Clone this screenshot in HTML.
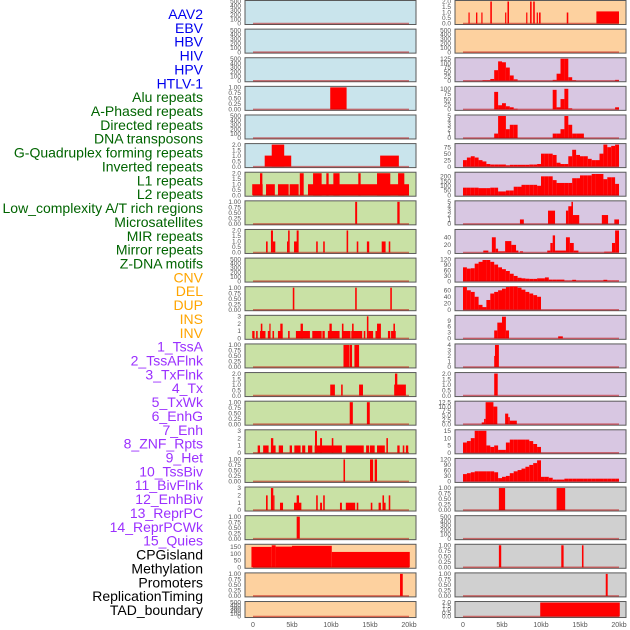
<!DOCTYPE html>
<html><head><meta charset="utf-8">
<style>
html,body{margin:0;padding:0;background:#fff;}
svg{display:block;font-family:"Liberation Sans",sans-serif;}
</style></head>
<body>
<svg id="chart" width="630" height="630" viewBox="0 0 630 630"></svg>
<script>
// ---- data ----
const rowLabels = ["AAV2","EBV","HBV","HIV","HPV","HTLV-1","Alu repeats","A-Phased repeats","Directed repeats","DNA transposons","G-Quadruplex forming repeats","Inverted repeats","L1 repeats","L2 repeats","Low_complexity A/T rich regions","Microsatellites","MIR repeats","Mirror repeats","Z-DNA motifs","CNV","DEL","DUP","INS","INV","1_TssA","2_TssAFlnk","3_TxFlnk","4_Tx","5_TxWk","6_EnhG","7_Enh","8_ZNF_Rpts","9_Het","10_TssBiv","11_BivFlnk","12_EnhBiv","13_ReprPC","14_ReprPCWk","15_Quies","CPGisland","Methylation","Promoters","ReplicationTiming","TAD_boundary"];
const labelGroups = [6,13,5,15,5];
const groupColors = ["#0000ee","#006400","#ffa500","#9b30ff","#000000"];
const xTickValues = [0,5,10,15,20];
const xTickLabels = ["0","5kb","10kb","15kb","20kb"];
const T500 = [0,100,200,300,400,500];
const T1 = [0,0.25,0.5,0.75,1];
const T2 = [0,0.5,1,1.5,2];
const T3 = [0,1,2,3];
const leftPanels = [
 [500,T500,null,[]],
 [500,T500,null,[]],
 [500,T500,null,[]],
 [1,T1,null,[[9.9,12.0,1]]],
 [500,T500,null,[]],
 [2,T2,null,[[1.5,4.9,1],[2.4,4.0,2],[16.3,18.7,1]]],
 [2,T2,null,[[-0.1,1.24,1],[0.9,1.2,2],[1.67,2.8,1],[3.2,4.57,1],[4.7,5.85,1],[6.0,6.5,2],[7.05,20.0,1],[7.7,8.8,2],[9.4,9.7,2],[10.3,11.1,2],[13.5,13.8,2],[15.9,17.6,2],[18.6,19.4,2]]],
 [1,T1,null,[[13.1,13.35,1],[18.5,18.8,1]]],
 [2,T2,null,[[1.67,1.88,1],[2.3,2.56,2],[2.56,2.86,1],[4.36,4.5,1],[4.5,4.7,2],[5.26,5.7,1],[5.6,5.85,2],[8.1,8.3,1],[9.0,9.2,1],[12.0,12.2,2],[13.3,13.5,1],[14.6,14.9,1],[16.5,17.0,1],[17.4,17.6,1]]],
 [500,T500,null,[]],
 [1,T1,null,[[5.1,5.3,1],[13.1,13.3,1],[17.6,17.8,1]]],
 [3,T3,null,[[-0.1,0.2,1],[0.4,0.6,1],[0.9,1.6,1],[1.9,2.2,1],[2.5,2.7,1],[3.2,3.8,1],[4.5,4.7,1],[5.5,7.3,1],[7.6,8.8,1],[8.9,9.2,1],[9.6,11.1,1],[11.4,12.5,1],[12.6,14.0,1],[14.2,14.4,1],[14.8,15.4,1],[15.7,16.3,1],[17.3,17.6,1],[17.7,18.3,1],[1.0,1.2,2],[2.1,2.2,2],[3.5,3.8,2],[6.1,6.4,2],[9.8,10.1,2],[11.4,11.6,2],[12.7,12.9,2],[15.9,16.4,2],[18.0,18.2,2],[14.6,14.8,3]]],
 [1,T1,null,[[11.6,12.35,1],[12.4,12.7,1],[13.0,13.6,1]]],
 [2,T2,null,[[9.9,10.5,1],[11.3,11.5,1],[13.6,14.1,1],[18.1,19.6,1],[18.2,18.5,2]]],
 [1,T1,null,[[12.4,12.8,1],[14.6,14.97,1]]],
 [3,T3,null,[[0.6,0.9,1],[1.3,2.0,1],[2.3,2.9,1],[2.3,2.6,2],[3.3,3.85,1],[4.7,5.0,1],[5.3,6.1,1],[6.3,6.7,1],[7.05,7.6,1],[7.9,11.4,1],[7.95,8.2,3],[8.6,8.85,2],[10.1,10.3,2],[11.9,14.2,1],[14.5,14.9,1],[15.0,15.6,1],[15.9,16.9,1],[17.1,17.3,2],[18.5,18.8,1],[19.2,19.4,1],[19.6,19.9,1]]],
 [1,T1,null,[[11.6,11.8,1],[15.0,15.4,1],[15.6,15.9,1]]],
 [3,T3,null,[[1.67,1.88,2],[2.3,2.6,3],[2.6,2.7,2],[3.46,3.85,1],[5.26,6.2,1],[5.6,5.9,2],[8.1,8.3,2],[8.6,8.85,1],[9.0,9.2,2],[11.15,11.4,1],[11.9,13.1,1],[13.3,13.5,1],[15.1,15.3,1],[16.1,16.4,1],[16.6,16.8,2],[16.8,17.0,1],[17.4,17.6,2]]],
 [1,T1,null,[[5.6,6.0,1]]],
 [162,[0,50,100,150],null,[[-0.2,2.4,150],[2.4,2.9,162],[2.9,5.0,152],[5.0,10.1,158],[10.1,20.1,113]]],
 [1,T1,null,[[18.85,19.2,1]]],
 [500,T500,null,[]]
];
const hivBins = [0,0,0,0,0,3,3,10,60,110,105,75,30,8,0,0,0,0,0,0,0,0,0,5,40,125,125,20,3,0,0,0,0,0,0,0,0,0,0,5];
const hpvBins = [0,0,0,0,0,0,0,0,85,20,30,15,10,3,0,0,0,0,0,0,0,0,0,95,10,50,100,5,0,0,0,0,0,0,0,0,0,0,0,10];
const htlvBins = [0,0,0,0,0,0,0,0,1,5,5,2,3,3,0,0,0,0,0,0,0,0,0,1,1,2,5,3,1,1,1,0,0,0,0,0,0,0,0,0];
const aluBins = [25,35,40,35,25,20,10,8,8,8,8,5,7,7,7,7,7,8,8,10,50,50,50,45,15,10,10,40,65,45,40,40,30,25,25,50,85,75,80,85];
const aphBins = [80,80,80,80,75,75,75,80,80,40,40,50,50,90,90,110,110,110,110,100,200,200,200,160,130,130,130,130,180,180,210,210,210,225,225,225,170,190,190,120];
const gquadBins = [75,68,70,95,105,115,115,105,90,75,65,55,40,28,18,15,13,12,12,15,15,20,8,8,8,8,3,3,7,3,3,3,3,3,3,3,7,3,3,3];
const invBins = [70,60,55,40,15,8,30,50,55,60,65,70,72,72,68,62,55,50,45,40,0,0,0,0,0,0,0,0,0,0,0,0,0,0,0,0,0,0,0,0];
const msatBins = [7,8,10,15,15,15,5,4,5,2,2,7,9,9,9,9,9,8,6,4,0,0,0,0,0,0,0,0,0,0,0,0,0,0,0,0,0,0,0,0];
const mirBins = [40,45,50,55,55,55,55,55,50,18,25,30,45,55,62,70,80,90,100,115,25,25,20,10,10,10,15,15,15,15,15,15,15,15,15,15,15,15,15,15];
const rightPanels = [
 [2,T2,null,{segs:[[0.7,0.85,1],[1.67,1.84,1],[2.35,2.5,1],[3.5,3.7,2],[5.4,5.55,1],[5.7,5.9,2],[8.1,8.25,1],[8.6,8.8,2],[9.0,9.2,2],[9.45,9.6,1],[9.75,9.95,1],[13.3,13.5,1],[17.1,20.0,1.1]]}],
 [500,T500,null,{segs:[]}],
 [125,[0,25,50,75,100,125],null,{bins:hivBins}],
 [107,[0,25,50,75,100],null,{bins:hpvBins}],
 [5,[0,1,2,3,4,5],null,{bins:htlvBins}],
 [85,[0,25,50,75],null,{bins:aluBins}],
 [233,[0,50,100,150,200],null,{bins:aphBins}],
 [5,[0,1,2,3,4,5],null,{segs:[[7.3,7.8,1],[10.9,11.8,3],[13.2,13.5,3],[13.5,14.0,4],[13.9,14.1,5],[14.1,14.9,2],[17.8,18.6,2],[19.4,20.0,1]]}],
 [58,[0,20,40],null,{segs:[[2.6,3.25,5],[3.7,4.2,40],[4.2,4.5,10],[4.5,5.4,3],[5.4,6.2,30],[6.2,6.8,20],[6.8,7.1,5],[7.3,7.7,3],[10.8,11.2,5],[11.2,11.5,25],[11.5,11.8,45],[11.8,13.2,5],[13.2,13.7,40],[13.7,14.2,25],[14.2,14.8,5],[18.1,19.1,2],[19.1,19.5,25],[19.5,20.0,58]]}],
 [120,[0,30,60,90,120],null,{bins:gquadBins}],
 [68,[0,20,40,60],null,{bins:invBins}],
 [11.2,[0,3,6,9],null,{segs:[[4.0,4.4,4],[4.4,5.0,8],[5.0,5.5,11],[5.5,5.9,4],[12.2,12.8,1]]}],
 [4,[0,1,2,3,4],null,{segs:[[4.0,4.1,2],[4.1,4.6,4]]}],
 [2,T2,null,{segs:[[4.0,4.45,2]]}],
 [12.5,[0,2.5,5,7.5,10,12.5],null,{segs:[[2.4,2.7,1],[2.7,2.9,3],[2.9,3.9,12.5],[3.9,4.4,10],[5.4,5.8,6],[5.8,6.0,4],[6.0,6.9,2]]}],
 [15,[0,5,10,15],null,{bins:msatBins}],
 [120,[0,30,60,90,120],null,{bins:mirBins}],
 [1,T1,null,{segs:[[4.6,5.4,1],[12.0,13.1,1]]}],
 [500,T500,null,{segs:[]}],
 [1,T1,null,{segs:[[4.6,4.9,1],[12.6,12.9,1],[15.25,15.45,1]]}],
 [1,T1,null,{segs:[[18.3,18.55,1]]}],
 [2,T2,null,{segs:[[9.9,20.1,2]]}]
];
const leftBg = ["#c9e4ec","#c9e4ec","#c9e4ec","#c9e4ec","#c9e4ec","#c9e4ec","#c9e1a5","#c9e1a5","#c9e1a5","#c9e1a5","#c9e1a5","#c9e1a5","#c9e1a5","#c9e1a5","#c9e1a5","#c9e1a5","#c9e1a5","#c9e1a5","#c9e1a5","#fdd19f","#fdd19f","#fdd19f"];
const rightBg = ["#fdd19f","#fdd19f","#d8c7e2","#d8c7e2","#d8c7e2","#d8c7e2","#d8c7e2","#d8c7e2","#d8c7e2","#d8c7e2","#d8c7e2","#d8c7e2","#d8c7e2","#d8c7e2","#d8c7e2","#d8c7e2","#d8c7e2","#d0d0d0","#d0d0d0","#d0d0d0","#d0d0d0","#d0d0d0"];

// ---- drawing ----
const NS = "http://www.w3.org/2000/svg";
const svg = document.getElementById("chart");
function mk(tag, attrs, parent){ const e=document.createElementNS(NS,tag); for(const k in attrs) e.setAttribute(k,attrs[k]); (parent||svg).appendChild(e); return e; }
const PITCH = 28.62;
const cols = [{x0:245,x1:416,kb0:253,kbScale:7.8,tickRight:241,panels:leftPanels,bg:leftBg,name:'left'},
              {x0:455,x1:626,kb0:463,kbScale:7.8,tickRight:451,panels:rightPanels,bg:rightBg,name:'right'}];
function fmt(v, ticks){
  const step = ticks.length>1 ? ticks[1]-ticks[0] : 1;
  if (step===0.25) return v.toFixed(2);
  if (step===0.5 || step===2.5) return v.toFixed(1);
  return String(v);
}
let li=0;
labelGroups.forEach((n,g)=>{
  for(let k=0;k<n && li<rowLabels.length;k++){
    const t = mk("text",{x:203,y:14+li*13.86+5,"text-anchor":"end","font-size":"14",fill:groupColors[g]});
    
    
    t.textContent = rowLabels[li];
    li++;
  }
});
cols.forEach(col=>{
  const xs = kb => col.kb0 + kb*col.kbScale;
  col.panels.forEach((p,i)=>{
    const top = i*PITCH;
    const h = (i===21)?17:25;
    const g = mk("g",{});
    
    
    const bg = mk("rect",{x:col.x0,y:top+0.5,width:col.x1-col.x0,height:h-1,fill:col.bg[i],stroke:"#5a5a5a","stroke-width":1},g);
    
    
    const ymax = p[0], ticks = p[1], d = p[3];
    const base = top+h-1.5, span = h-3;
    const ys = v => base - v/ymax*span;
    let segs = [];
    if (Array.isArray(d)) segs = d;
    else if (d.segs) segs = d.segs;
    else if (d.bins) d.bins.forEach((v,k)=>{ if(v>0) segs.push([k*0.5,(k+1)*0.5,v]); });
    segs.forEach(s=>{
      const x0=Math.max(col.x0+1,xs(s[0])), x1=Math.min(col.x1-1,xs(s[1]));
      const r = mk("rect",{x:x0,y:ys(s[2]),width:Math.max(1.2,x1-x0),height:base-ys(s[2]),fill:"#ff0000"},g);
      
      
    });
    const bl = mk("line",{x1:xs(0),x2:xs(20),y1:base,y2:base,stroke:"rgba(190,0,0,0.5)","stroke-width":1.5},g);
    
    
    ticks.forEach(t=>{
      const tl = mk("text",{x:col.tickRight,y:ys(t)+2.2,"text-anchor":"end","font-size":"6.5",fill:"#555"},g);
      
      
      tl.textContent = fmt(t,ticks);
    });
  });
  xTickValues.forEach((v,k)=>{
    const t = mk("text",{x:xs(v),y:627,"text-anchor":"middle","font-size":"7",fill:"#555"});
    
    
    t.textContent = xTickLabels[k];
  });
});
</script>
</body></html>
